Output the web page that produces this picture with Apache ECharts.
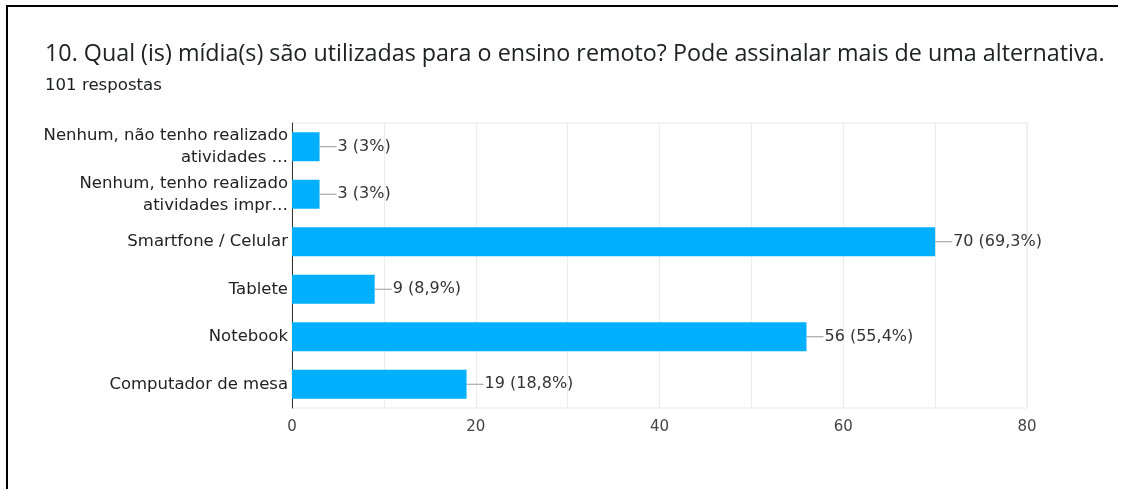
<!DOCTYPE html>
<html>
<head>
<meta charset="utf-8">
<script src="https://cdn.jsdelivr.net/npm/echarts@6/dist/echarts.min.js"></script>
<style>
  html, body { margin: 0; padding: 0; background: #fff; }
  #chart { width: 1135px; height: 489px; }
</style>
</head>
<body>
<div id="chart"></div>
<script>
// dados do gráfico
var categorias = [
  'Nenhum, não tenho realizado\natividades …',
  'Nenhum, tenho realizado\natividades impr…',
  'Smartfone / Celular',
  'Tablete',
  'Notebook',
  'Computador de mesa'
];
var respostas = [3, 3, 70, 9, 56, 19];
var totalRespostas = 101;
var ticksX = [0, 20, 40, 60, 80];

var titulo = '10. Qual (is) mídia(s) são utilizadas para o ensino remoto? Pode assinalar mais de uma alternativa.';
var subtitulo = totalRespostas + ' respostas';

function pct(v) {
  var p = (v / totalRespostas * 100).toFixed(1);
  if (p.slice(-2) === '.0') p = p.slice(0, -2);
  return p.replace('.', ',');
}

var chart = echarts.init(document.getElementById('chart'));

var option = {
  animation: false,
  backgroundColor: '#fff',
  title: {
    text: titulo,
    subtext: subtitulo,
    left: 40,
    top: 38,
    itemGap: 11,
    textStyle: {fontFamily: 'Open Sans', fontSize: 23.3, fontWeight: 'normal', color: '#202124'},
    subtextStyle: {fontFamily: 'DejaVu Sans', fontSize: 16.6, color: '#202124'}
  },
  graphic: [
    // moldura preta (topo e esquerda)
    {type: 'line', shape: {x1: 6, y1: 6, x2: 1118, y2: 6}, style: {stroke: '#000', lineWidth: 2}},
    {type: 'line', shape: {x1: 7, y1: 6, x2: 7, y2: 489}, style: {stroke: '#000', lineWidth: 2}}
  ],
  grid: {
    left: 292, right: 108, top: 123, bottom: 81,
    show: true, borderColor: '#e8e8e8', borderWidth: 1
  },
  xAxis: {
    type: 'value',
    min: 0, max: 80, interval: 10,
    axisLine: {show: false},
    axisTick: {show: false},
    splitLine: {lineStyle: {color: '#ececec'}},
    axisLabel: {
      margin: 12,
      fontFamily: 'DejaVu Sans', fontSize: 15, color: '#444',
      formatter: function (v) { return ticksX.indexOf(v) >= 0 ? String(v) : ''; }
    }
  },
  yAxis: {
    type: 'category',
    inverse: true,
    data: categorias,
    axisLine: {show: true, lineStyle: {color: '#333', width: 1}},
    axisTick: {show: false},
    axisLabel: {
      margin: 4,
      fontFamily: 'DejaVu Sans', fontSize: 16.5, color: '#222',
      lineHeight: 22, align: 'right'
    }
  },
  series: [{
    type: 'bar',
    data: respostas,
    barWidth: 29,
    itemStyle: {color: '#00b0ff'},
    label: {
      show: true,
      position: 'right',
      distance: 0,
      formatter: function (p) {
        return '{l|}{t|' + p.value + ' (' + pct(p.value) + '%)}';
      },
      rich: {
        l: {width: 17, height: 1, backgroundColor: '#999'},
        t: {fontFamily: 'DejaVu Sans', fontSize: 16, color: '#333', padding: [0, 0, 0, 1]}
      }
    }
  }]
};

chart.setOption(option);
</script>
</body>
</html>
